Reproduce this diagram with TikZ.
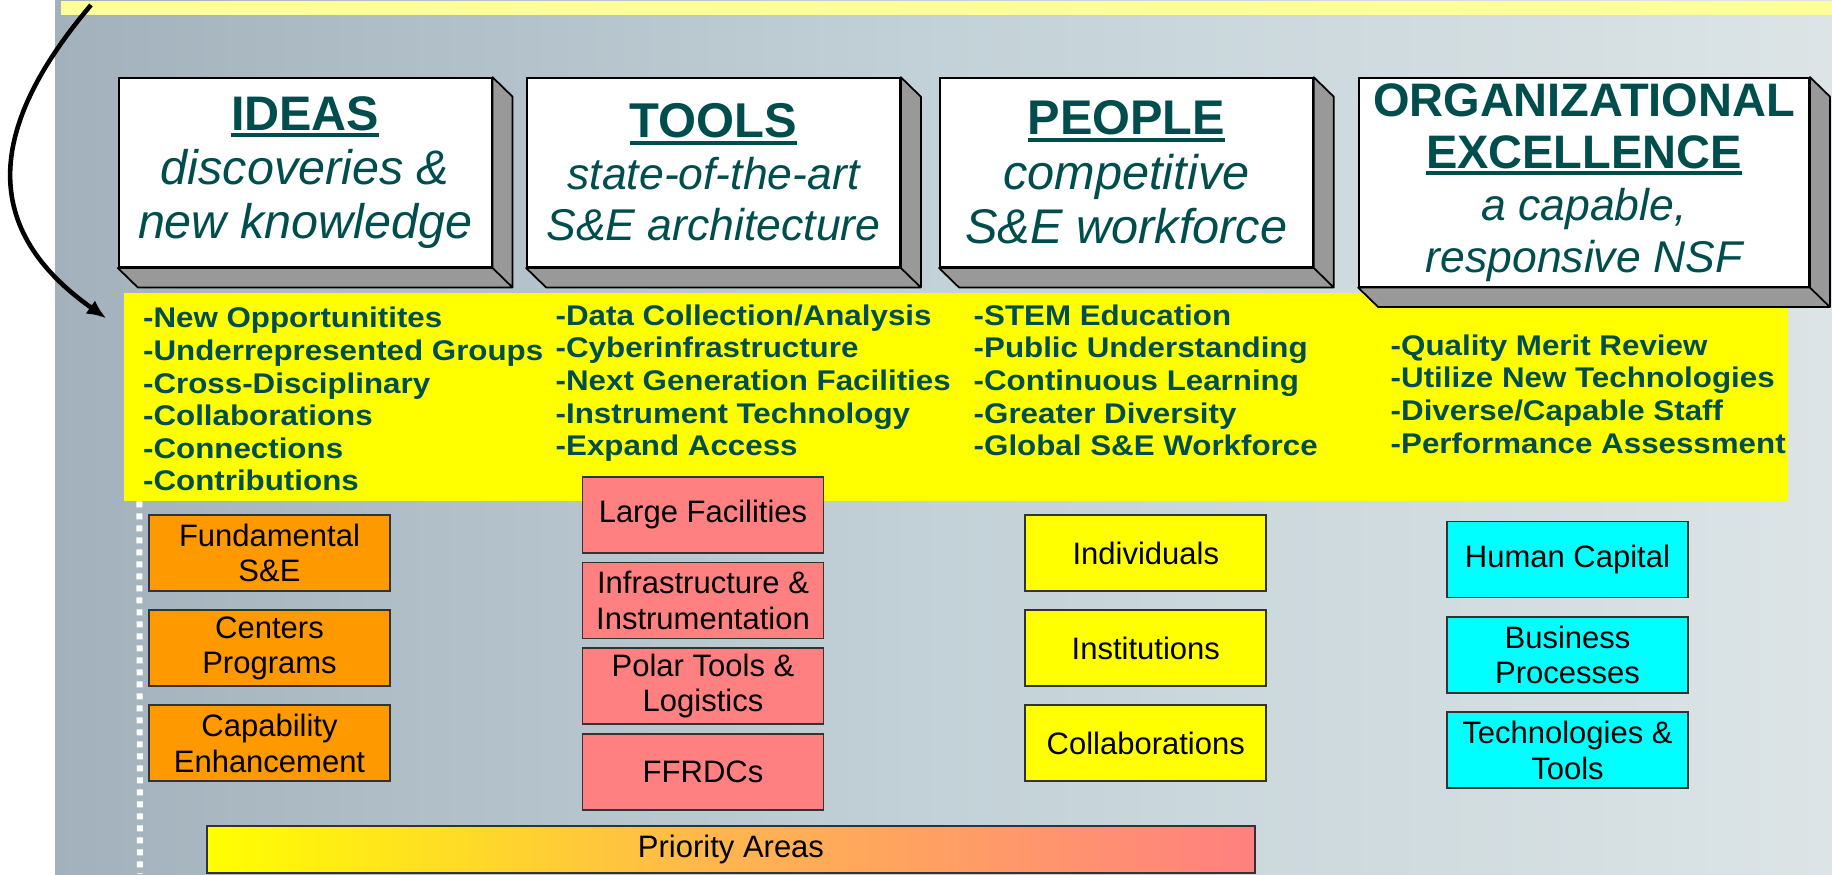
\documentclass[tikz,border=0pt]{standalone}
\usepackage{fontspec}
\setmainfont{Liberation Sans}
\newfontfamily\bandfont{Liberation Sans}[FakeStretch=1.1]
\usepackage{xcolor}
\usetikzlibrary{positioning,arrows.meta}

\definecolor{nsfteal}{HTML}{004D4D}
\definecolor{paleyellow}{HTML}{FFFF99}
\definecolor{pillargray}{HTML}{999999}
\definecolor{ideaorange}{HTML}{FF9900}
\definecolor{toolsalmon}{HTML}{FF8080}
\definecolor{peopleyellow}{HTML}{FFFF00}
\definecolor{orgcyan}{HTML}{00FFFF}
\definecolor{bgleft}{HTML}{A3B1BC}
\definecolor{bgmid}{HTML}{C3D2D8}
\definecolor{bgright}{HTML}{DCE4E6}
\definecolor{priomid}{HTML}{FFB450}

\newcommand{\ulhead}[1]{\setbox0\hbox{#1}\rlap{\rule[-2.1pt]{\wd0}{1.35pt}}\box0}

\tikzset{
  pillar/.style={draw, fill=white, line width=0.5pt, inner sep=0pt, align=center, text=nsfteal},
  pillarside/.style={draw, fill=pillargray, line width=0.5pt, line join=round},
  goals/.style={anchor=north west, inner sep=0pt, align=left, text=nsfteal,
    font=\bandfont\bfseries\fontsize{8.1}{9.28}\selectfont},
  investbox/.style={draw=black!80, line width=0.5pt, minimum width=2.41cm, minimum height=0.76cm,
    inner sep=0pt, align=center, font=\fontsize{8.82}{10.1}\selectfont},
  flowarrow/.style={line width=1.3pt, -{Latex[length=5.5pt,width=4.6pt]}},
  dashline/.style={white, line width=1.7pt, dash pattern=on 0.06cm off 0.06cm}
}

\begin{document}
\begin{tikzpicture}
        \useasboundingbox (0,0) rectangle (18.32,8.74);

        % The background
        \fill[white] (0,0) rectangle (18.32,8.74);
        \shade[left color=bgleft, right color=bgright, middle color=bgmid] (0.55,0) rectangle (18.32,8.74);
        \node[fill=paleyellow, inner sep=0pt, minimum width=17.72cm, minimum height=0.14cm, anchor=north west] (topband) at (0.60,8.74) {};

        % The yellow band
        \node[fill=peopleyellow, inner sep=0pt, minimum width=16.64cm, minimum height=2.077cm] (band) at (9.56,4.7715) {};

        % The goals in the band
        \node[goals] (ideasgoals) at (1.424,5.675) {-New Opportunitites\\-Underrepresented Groups\\-Cross-Disciplinary\\-Collaborations\\-Connections\\-Contributions};
        \node[goals] (toolsgoals) at (5.55,5.70) {-Data Collection/Analysis\\-Cyberinfrastructure\\-Next Generation Facilities\\-Instrument Technology\\-Expand Access};
        \node[goals] (peoplegoals) at (9.73,5.70) {-STEM Education\\-Public Understanding\\-Continuous Learning\\-Greater Diversity\\-Global S\&E Workforce};
        \node[goals] (orggoals) at (13.90,5.40) {-Quality Merit Review\\-Utilize New Technologies\\-Diverse/Capable Staff\\-Performance Assessment};

        % The pillars
        \node[pillar, minimum width=3.73cm, minimum height=1.89cm, font=\fontsize{13.8}{15.5}\selectfont\itshape] (ideas) at (3.052,7.014)
            {{\upshape\bfseries\ulhead{IDEAS}}\\discoveries \&\\new knowledge};
        \node[pillar, minimum width=3.73cm, minimum height=1.89cm, font=\fontsize{12.66}{14.65}\selectfont\itshape] (tools) at (7.135,7.014)
            {{\upshape\bfseries\fontsize{13.9}{14.65}\selectfont\ulhead{TOOLS}}\\state-of-the-art\\S\&E architecture};
        \node[pillar, minimum width=3.73cm, minimum height=1.89cm, font=\fontsize{13.85}{15.5}\selectfont\itshape] (people) at (11.264,7.014)
            {{\upshape\bfseries\ulhead{PEOPLE}}\\competitive\\S\&E workforce};
        \node[pillar, minimum width=4.50cm, minimum height=2.087cm, font=\fontsize{12.66}{14.8}\selectfont\itshape] (org) at (15.84,6.917)
            {{\upshape\bfseries\fontsize{13.37}{14.8}\selectfont ORGANIZATIONAL}\\{\upshape\bfseries\fontsize{13.37}{14.8}\selectfont\ulhead{EXCELLENCE}}\\a capable,\\responsive NSF};

        % The sides of the pillars
        \foreach \p in {ideas,tools,people,org}
            \draw[pillarside] (\p.north east) -- ([shift={(0.20,-0.195)}]\p.north east)
                -- ([shift={(0.20,-0.195)}]\p.south east) -- ([shift={(0.20,-0.195)}]\p.south west)
                -- (\p.south west) -- (\p.south east) -- cycle
                (\p.south east) -- ([shift={(0.20,-0.195)}]\p.south east);

        % The boxes under the band
        \node[investbox, fill=ideaorange] (fundamental) at (2.695,3.21) {Fundamental\\S\&E};
        \node[investbox, fill=ideaorange, below=0.174cm of fundamental] (centers) {Centers\\Programs};
        \node[investbox, fill=ideaorange, below=0.174cm of centers] (capability) {Capability\\Enhancement};

        \node[investbox, fill=toolsalmon] (largefac) at (7.03,3.593) {Large Facilities};
        \node[investbox, fill=toolsalmon, below=0.08cm of largefac] (infra) {Infrastructure \&\\Instrumentation};
        \node[investbox, fill=toolsalmon, below=0.08cm of infra] (polar) {Polar Tools \&\\Logistics};
        \node[investbox, fill=toolsalmon, below=0.08cm of polar] (ffrdc) {FFRDCs};

        \node[investbox, fill=peopleyellow] (individuals) at (11.458,3.21) {Individuals};
        \node[investbox, fill=peopleyellow, below=0.174cm of individuals] (institutions) {Institutions};
        \node[investbox, fill=peopleyellow, below=0.174cm of institutions] (collab) {Collaborations};

        \node[investbox, fill=orgcyan] (humancap) at (15.675,3.145) {Human Capital};
        \node[investbox, fill=orgcyan, below=0.176cm of humancap] (business) {Business\\Processes};
        \node[investbox, fill=orgcyan, below=0.176cm of business] (techtools) {Technologies \&\\Tools};

        % The priority bar
        \node[draw=black!80, line width=0.5pt, left color=peopleyellow, right color=toolsalmon, middle color=priomid,
            minimum width=10.48cm, minimum height=0.47cm, inner sep=0pt, font=\fontsize{8.82}{10.1}\selectfont] (priority) at (7.31,0.245) {Priority Areas};

        % The dotted line
        \coordinate (dashtop) at ([xshift=0.16cm]band.south west);
        \coordinate (dashbot) at (1.40,0);
        \draw[dashline] (dashtop) -- (dashbot);

        % The arrow
        \coordinate (arrowstart) at ([shift={(0.31,-0.05)}]topband.north west);
        \coordinate (arrowtip) at ([shift={(-0.17,-0.26)}]band.north west);
        \draw[flowarrow] (arrowstart) .. controls (-0.15,7.44) and (-0.19,6.44) .. (arrowtip);

\end{tikzpicture}
\end{document}
